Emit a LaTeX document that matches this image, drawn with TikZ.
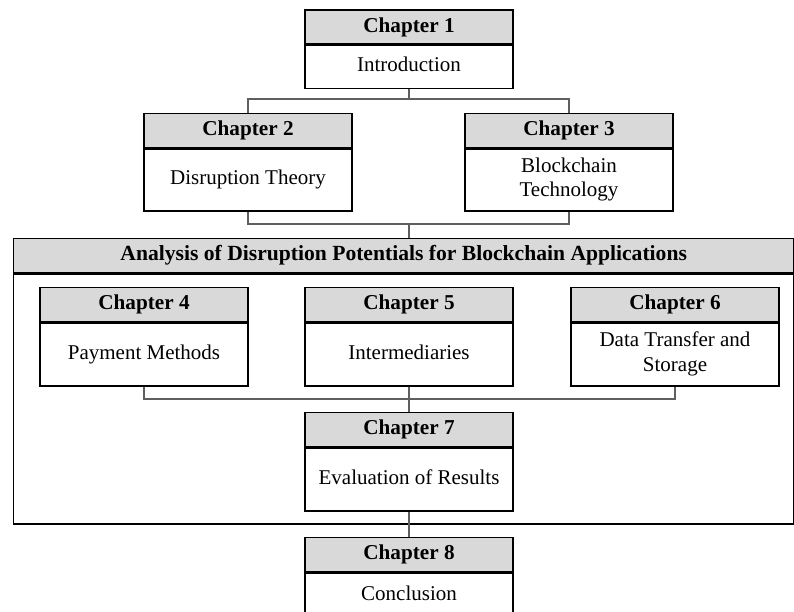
\documentclass[tikz,border=0pt]{standalone}
\usepackage{fontspec}
\setmainfont{Liberation Serif}
\definecolor{headgray}{RGB}{217,217,217}
\definecolor{linkgray}{RGB}{95,95,95}
% struts that centre capitals in a box
\newcommand\hstrut{\rule[-5pt]{0pt}{19pt}}
\newcommand\bstrut{\rule[-5.5pt]{0pt}{17.5pt}}
\tikzset{
  x=1pt, y=-1pt,
  boxline/.style={draw=black, line width=1.4pt},
  headbox/.style={boxline, fill=headgray, minimum width=208pt, minimum height=34pt,
    inner sep=0pt, anchor=north, font=\fontsize{21.2}{24}\selectfont\bfseries},
  bodybox/.style={boxline, fill=white, minimum width=208pt, inner sep=0pt, anchor=north,
    align=center, font=\fontsize{21}{24.5}\selectfont},
  link/.style={draw=linkgray, line width=1.3pt},
}
% chapter box: name, centre x, top y, body height, number, body text
\newcommand\chapbox[6]{%
  \node[headbox] (h#1) at (#2,#3) {\hstrut Chapter #5};
  \node[bodybox, minimum height=#4pt] (b#1) at (h#1.south) {\bstrut #6\bstrut};
}
\begin{document}
\begin{tikzpicture}
\useasboundingbox (0,0) rectangle (794,612);
\clip (0,0) rectangle (794,612);

% frame around the analysis chapters
\node[boxline, fill=headgray, minimum width=780pt, minimum height=34pt, inner sep=0pt,
  anchor=north west, font=\fontsize{21.6}{24}\selectfont\bfseries] (ah) at (13,238)
  {\hstrut Analysis of Disruption Potentials for Blockchain Applications};
\node[boxline, minimum width=780pt, minimum height=250pt, inner sep=0pt,
  anchor=north west] (ab) at (ah.south west) {};

% junctions of the connectors
\coordinate (j1) at (409,99);
\coordinate (j2) at (409,224);
\coordinate (j3) at (409,399);

\chapbox{1}{409}{9.5}{43}{1}{Introduction}
\chapbox{2}{248}{113}{62}{2}{Disruption Theory}
\chapbox{3}{569}{113}{62}{3}{Blockchain\\Technology}
\chapbox{4}{144}{287}{63}{4}{Payment Methods}
\chapbox{5}{409}{287}{63}{5}{Intermediaries}
\chapbox{6}{675}{287}{63}{6}{Data Transfer and\\Storage}
\chapbox{7}{409}{412}{63}{7}{Evaluation of Results}
\chapbox{8}{409}{537}{46}{8}{Conclusion}

\draw[link] (b1.south) -- (j1);
\draw[link] (h2.north) |- (j1) -| (h3.north);
\draw[link] (b2.south) |- (j2) -| (b3.south);
\draw[link] (j2) -- (j2 |- ah.north);
\draw[link] (b4.south) |- (j3) -| (b6.south);
\draw[link] (b5.south) -- (h7.north);
\draw[link] (b7.south) -- (h8.north);
\end{tikzpicture}
\end{document}
